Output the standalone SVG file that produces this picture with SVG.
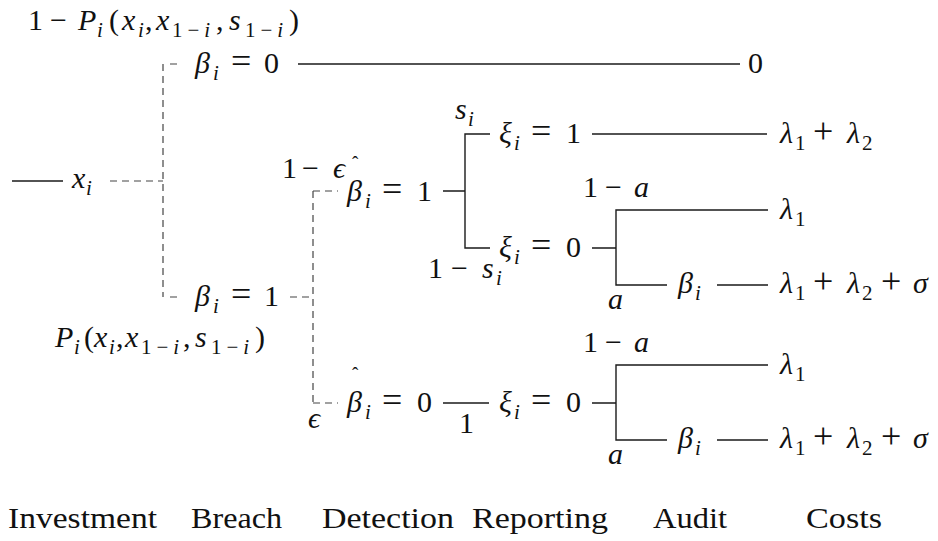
<svg xmlns="http://www.w3.org/2000/svg" width="938" height="541" viewBox="0 0 938 541" font-family="'Liberation Serif', 'DejaVu Serif', serif">
  <style>
    text { font-family: 'Liberation Serif', 'DejaVu Serif', 'Noto Serif', serif; }
    .m { font-size: 30px; fill: #111; }
    .i { font-style: italic; }
    .s { font-size: 21px; }
    .ls { letter-spacing: 5px; }
    .op { font-size: 36px; }
    .hat { font-size: 19px; }
    .solid { fill: none; stroke: #1a1a1a; stroke-width: 1.4; }
    .dash { fill: none; stroke: #444; stroke-width: 1.2; stroke-dasharray: 7 5; }
    .tick { fill: none; stroke: #444; stroke-width: 1.2; }
  </style>
  <rect width="938" height="541" fill="#fff"/>

  <!-- connectors -->
  <g id="connectors">
    <!-- investment stem -->
    <path class="solid" d="M12 181 H63"/>
    <path class="dash" d="M110 181 H163"/>
    <!-- breach split -->
    <path class="dash" d="M163 64 V297"/>
    <path class="tick" d="M170 64 H177 M170 297 H177"/>
    <path class="solid" d="M298 64 H740"/>
    <!-- detection split -->
    <path class="dash" d="M290 297 H313"/>
    <path class="dash" d="M313 191 V403"/>
    <path class="dash" d="M313 191 H338 M313 403 H338"/>
    <!-- reporting split after detection -->
    <path class="solid" d="M443 191 H465 M490 134 H465 V248 H490"/>
    <path class="solid" d="M592 134 H767"/>
    <!-- audit split (detected, not reported) -->
    <path class="solid" d="M592 248 H616 M768 210 H616 V285 H667 M717 285 H768"/>
    <!-- undetected branch -->
    <path class="solid" d="M443 403 H489"/>
    <path class="solid" d="M592 403 H616 M768 365 H616 V440 H667 M717 440 H768"/>
  </g>

  <!-- investment -->
  <g id="node-investment">
    <text class="m"><tspan x="72" y="188" class="i">x</tspan><tspan x="86" y="195" class="i s">i</tspan></text>
  </g>

  <!-- breach, no -->
  <g id="node-breach0">
    <text class="m"><tspan x="28" y="30">1</tspan><tspan x="50" y="30">−</tspan><tspan x="78" y="30" class="i">P</tspan><tspan x="97" y="37" class="i s">i</tspan><tspan x="109" y="30">(</tspan><tspan x="122" y="30" class="i">x</tspan><tspan x="138" y="37" class="i s">i</tspan><tspan x="145" y="30">,</tspan><tspan x="156" y="30" class="i">x</tspan><tspan x="172" y="37" class="s ls">1−<tspan class="i">i</tspan></tspan><tspan x="216" y="30">,</tspan><tspan x="229" y="30" class="i">s</tspan><tspan x="245" y="37" class="s ls">1−<tspan class="i">i</tspan></tspan><tspan x="289" y="30">)</tspan></text>
    <text class="m"><tspan x="195" y="73" class="i">β</tspan><tspan x="213" y="80" class="i s">i</tspan><tspan x="231" y="73" class="op">=</tspan><tspan x="264" y="73">0</tspan></text>
  </g>
  <g id="cost-none">
    <text class="m" x="748" y="73">0</text>
  </g>

  <!-- breach, yes -->
  <g id="node-breach1">
    <text class="m"><tspan x="195" y="306" class="i">β</tspan><tspan x="213" y="313" class="i s">i</tspan><tspan x="231" y="306" class="op">=</tspan><tspan x="264" y="306">1</tspan></text>
    <text class="m"><tspan x="55" y="347" class="i">P</tspan><tspan x="74" y="354" class="i s">i</tspan><tspan x="84" y="347">(</tspan><tspan x="94" y="347" class="i">x</tspan><tspan x="109" y="354" class="i s">i</tspan><tspan x="116" y="347">,</tspan><tspan x="125" y="347" class="i">x</tspan><tspan x="141" y="354" class="s ls">1−<tspan class="i">i</tspan></tspan><tspan x="183" y="347">,</tspan><tspan x="195" y="347" class="i">s</tspan><tspan x="211" y="354" class="s ls">1−<tspan class="i">i</tspan></tspan><tspan x="255" y="347">)</tspan></text>
  </g>

  <!-- detected -->
  <g id="node-detect1">
    <text class="m"><tspan x="282" y="178">1</tspan><tspan x="302" y="178">−</tspan><tspan x="333" y="178" class="i">ϵ</tspan></text>
    <text class="m hat" x="352" y="169">ˆ</text>
    <text class="m"><tspan x="347" y="201" class="i">β</tspan><tspan x="365" y="208" class="i s">i</tspan><tspan x="382" y="201" class="op">=</tspan><tspan x="417" y="201">1</tspan></text>
  </g>

  <!-- reported -->
  <g id="node-report1">
    <text class="m"><tspan x="455" y="119" class="i">s</tspan><tspan x="468" y="126" class="i s">i</tspan></text>
    <text class="m"><tspan x="499" y="143" class="i">ξ</tspan><tspan x="514" y="150" class="i s">i</tspan><tspan x="531" y="143" class="op">=</tspan><tspan x="566" y="143">1</tspan></text>
  </g>
  <g id="cost-reported">
    <text class="m"><tspan x="780" y="143" class="i">λ</tspan><tspan x="795" y="150" class="s">1</tspan><tspan x="813" y="143" class="op">+</tspan><tspan x="847" y="143" class="i">λ</tspan><tspan x="862" y="150" class="s">2</tspan></text>
  </g>

  <!-- not reported -->
  <g id="node-report0">
    <text class="m"><tspan x="499" y="257" class="i">ξ</tspan><tspan x="514" y="264" class="i s">i</tspan><tspan x="531" y="257" class="op">=</tspan><tspan x="566" y="257">0</tspan></text>
    <text class="m"><tspan x="428" y="278">1</tspan><tspan x="451" y="278">−</tspan><tspan x="482" y="278" class="i">s</tspan><tspan x="496" y="285" class="i s">i</tspan></text>
  </g>

  <!-- audit after non-report -->
  <g id="node-audit-a">
    <text class="m"><tspan x="583" y="197">1</tspan><tspan x="605" y="197">−</tspan><tspan x="634" y="197" class="i">a</tspan></text>
    <text class="m i" x="608" y="309">a</text>
    <text class="m"><tspan x="678" y="293" class="i">β</tspan><tspan x="695" y="300" class="i s">i</tspan></text>
  </g>
  <g id="cost-a1">
    <text class="m"><tspan x="780" y="219" class="i">λ</tspan><tspan x="795" y="226" class="s">1</tspan></text>
  </g>
  <g id="cost-a2">
    <text class="m"><tspan x="780" y="293" class="i">λ</tspan><tspan x="795" y="300" class="s">1</tspan><tspan x="813" y="293" class="op">+</tspan><tspan x="847" y="293" class="i">λ</tspan><tspan x="862" y="300" class="s">2</tspan><tspan x="881" y="293" class="op">+</tspan><tspan x="913" y="293" class="i">σ</tspan></text>
  </g>

  <!-- not detected -->
  <g id="node-detect0">
    <text class="m i" x="308" y="428">ϵ</text>
    <text class="m hat" x="352" y="380">ˆ</text>
    <text class="m"><tspan x="347" y="412" class="i">β</tspan><tspan x="365" y="419" class="i s">i</tspan><tspan x="382" y="412" class="op">=</tspan><tspan x="417" y="412">0</tspan></text>
    <text class="m" x="459" y="433">1</text>
  </g>
  <g id="node-report0b">
    <text class="m"><tspan x="499" y="412" class="i">ξ</tspan><tspan x="514" y="419" class="i s">i</tspan><tspan x="531" y="412" class="op">=</tspan><tspan x="566" y="412">0</tspan></text>
  </g>

  <!-- audit after non-detection -->
  <g id="node-audit-b">
    <text class="m"><tspan x="583" y="352">1</tspan><tspan x="605" y="352">−</tspan><tspan x="634" y="352" class="i">a</tspan></text>
    <text class="m i" x="608" y="464">a</text>
    <text class="m"><tspan x="678" y="448" class="i">β</tspan><tspan x="695" y="455" class="i s">i</tspan></text>
  </g>
  <g id="cost-b1">
    <text class="m"><tspan x="780" y="374" class="i">λ</tspan><tspan x="795" y="381" class="s">1</tspan></text>
  </g>
  <g id="cost-b2">
    <text class="m"><tspan x="780" y="448" class="i">λ</tspan><tspan x="795" y="455" class="s">1</tspan><tspan x="813" y="448" class="op">+</tspan><tspan x="847" y="448" class="i">λ</tspan><tspan x="862" y="455" class="s">2</tspan><tspan x="881" y="448" class="op">+</tspan><tspan x="913" y="448" class="i">σ</tspan></text>
  </g>

  <!-- stage labels -->
  <g id="stages">
    <text class="m" x="8" y="528" textLength="149" lengthAdjust="spacingAndGlyphs">Investment</text>
    <text class="m" x="191" y="528" textLength="91" lengthAdjust="spacingAndGlyphs">Breach</text>
    <text class="m" x="322" y="528" textLength="132" lengthAdjust="spacingAndGlyphs">Detection</text>
    <text class="m" x="472" y="528" textLength="136" lengthAdjust="spacingAndGlyphs">Reporting</text>
    <text class="m" x="653" y="528" textLength="74" lengthAdjust="spacingAndGlyphs">Audit</text>
    <text class="m" x="806" y="528" textLength="76" lengthAdjust="spacingAndGlyphs">Costs</text>
  </g>
</svg>
